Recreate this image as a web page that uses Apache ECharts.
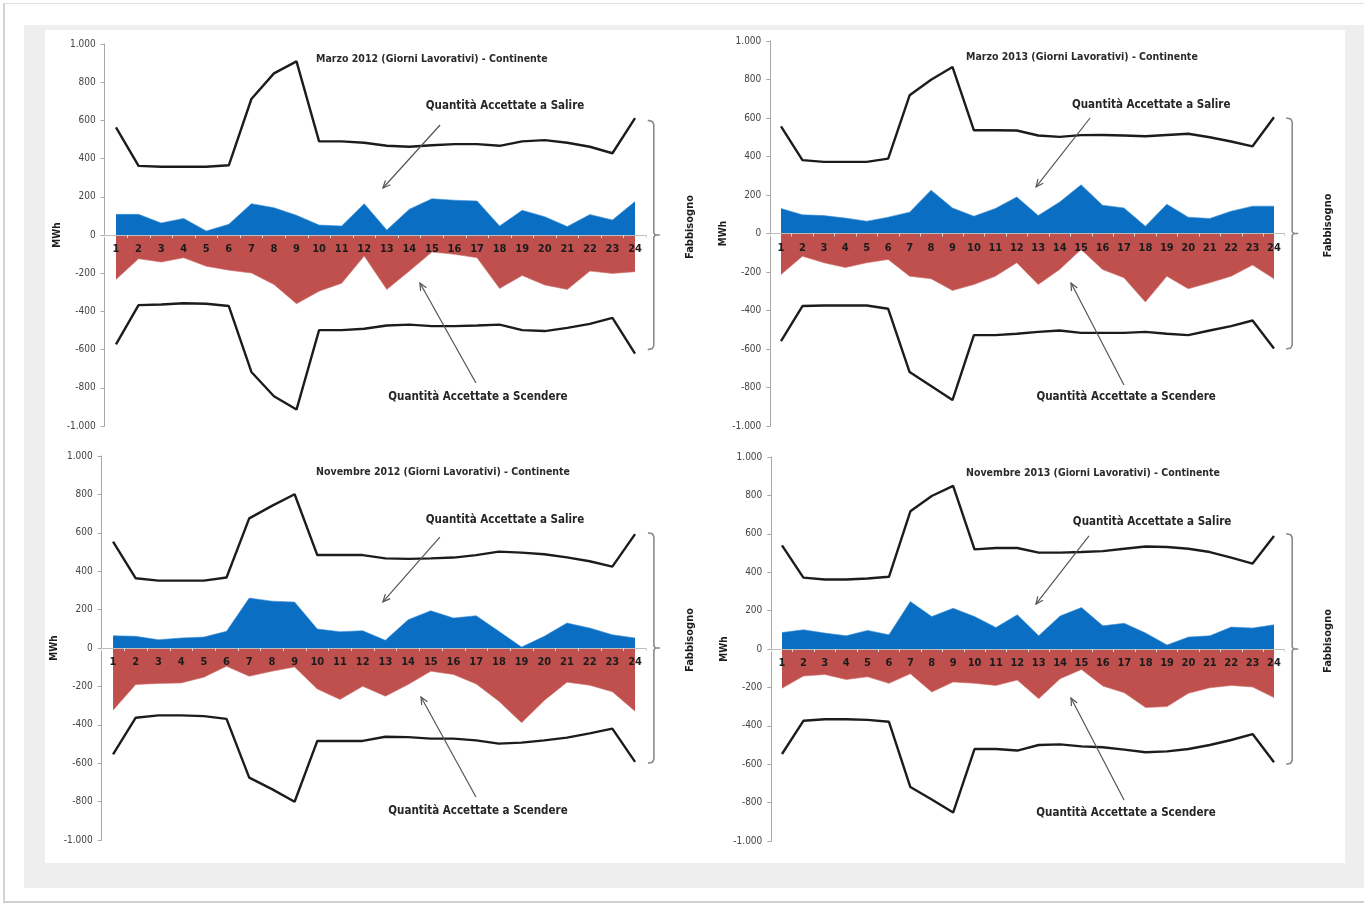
<!DOCTYPE html>
<html><head><meta charset="utf-8">
<script src="https://cdn.jsdelivr.net/npm/echarts@6/dist/echarts.min.js"></script>
<style>
html,body{margin:0;padding:0;background:#fff;width:1364px;height:905px;overflow:hidden;}
#frame{position:absolute;left:3px;top:3px;width:1361px;height:900px;border-left:2px solid #d4d4d4;border-top:1px solid #e2e2e2;border-bottom:2px solid #cfcfcf;box-sizing:border-box;}
#gray{position:absolute;left:24px;top:25px;width:1340px;height:863px;background:#eeeeee;}
#white{position:absolute;left:45px;top:30px;width:1300px;height:833px;background:#fff;}
#chart{position:absolute;left:0;top:0;width:1364px;height:905px;}
</style></head><body>
<div id="frame"></div><div id="gray"></div><div id="white"></div><div id="chart"></div>
<script>
// ---------- data ----------
const hours = ['1','2','3','4','5','6','7','8','9','10','11','12','13','14','15','16','17','18','19','20','21','22','23','24'];
const yTicks = [-1000, -800, -600, -400, -200, 0, 200, 400, 600, 800, 1000];
const titles = [
  'Marzo 2012 (Giorni Lavorativi) - Continente',
  'Marzo 2013 (Giorni Lavorativi) - Continente',
  'Novembre 2012 (Giorni Lavorativi) - Continente',
  'Novembre 2013 (Giorni Lavorativi) - Continente'
];
const labelSalire = 'Quantità Accettate a Salire';
const labelScendere = 'Quantità Accettate a Scendere';
const labelFabb = 'Fabbisogno';
const yName = 'MWh';

// Marzo 2012
const fabbUp_M12   = [563,362,357,357,357,365,712,846,909,490,490,483,467,462,470,476,476,467,490,497,483,462,428,612];
const fabbDown_M12 = [-573,-367,-364,-357,-360,-372,-717,-844,-914,-498,-498,-491,-474,-469,-477,-477,-474,-469,-498,-503,-486,-465,-434,-621];
const salire_M12   = [108,108,63,87,21,56,164,143,103,52,47,164,26,135,190,182,178,47,129,96,44,107,79,175];
const scendere_M12 = [-233,-124,-142,-119,-164,-184,-199,-259,-360,-294,-253,-110,-285,-189,-89,-101,-119,-280,-212,-262,-285,-189,-201,-192];
// Marzo 2013
const fabbUp_M13   = [557,381,372,372,372,389,718,799,865,536,536,535,509,502,511,512,509,505,512,518,500,478,453,604];
const fabbDown_M13 = [-559,-377,-374,-374,-374,-391,-720,-792,-865,-528,-528,-521,-511,-504,-516,-516,-516,-511,-521,-528,-504,-481,-452,-597];
const salire_M13   = [130,97,93,80,64,85,111,225,133,90,130,190,93,163,253,147,133,38,152,85,78,116,142,142];
const scendere_M13 = [-213,-118,-152,-177,-152,-135,-222,-235,-296,-265,-222,-152,-265,-187,-83,-187,-230,-356,-222,-287,-256,-222,-164,-235];
// Novembre 2012
const fabbUp_N12   = [554,363,351,351,351,367,675,740,801,484,484,484,467,464,467,471,484,502,497,488,472,452,424,593];
const fabbDown_N12 = [-554,-363,-351,-351,-355,-369,-675,-735,-801,-484,-484,-484,-462,-464,-472,-472,-481,-498,-493,-481,-467,-445,-420,-593];
const salire_N12   = [64,61,43,52,57,87,260,244,239,99,85,90,40,147,194,156,168,87,5,61,130,104,69,52];
const scendere_N12 = [-324,-190,-185,-182,-152,-95,-147,-121,-99,-213,-268,-199,-251,-190,-121,-138,-187,-277,-389,-273,-178,-194,-228,-329];
// Novembre 2013
const fabbUp_N13   = [540,372,362,362,367,376,717,797,850,519,526,526,502,502,505,510,522,534,531,522,505,476,445,588];
const fabbDown_N13 = [-547,-374,-366,-366,-369,-379,-719,-784,-852,-521,-521,-529,-500,-497,-507,-512,-524,-538,-533,-521,-500,-474,-443,-590];
const salire_N13   = [86,100,83,69,97,74,247,169,212,169,112,178,69,172,216,121,134,83,21,62,69,114,109,126];
const scendere_N13 = [-205,-141,-133,-159,-145,-179,-129,-224,-172,-179,-190,-162,-259,-155,-107,-193,-228,-305,-300,-231,-202,-190,-198,-253];

const fabbUp   = [fabbUp_M12, fabbUp_M13, fabbUp_N12, fabbUp_N13];
const fabbDown = [fabbDown_M12, fabbDown_M13, fabbDown_N12, fabbDown_N13];
const salire   = [salire_M12, salire_M13, salire_N12, salire_N13];
const scendere = [scendere_M12, scendere_M13, scendere_N12, scendere_N13];

// annotation anchors in data space: [hour (fractional), MWh]
const titlePos     = [[15.0, 921], [15.04, 917], [15.54, 917], [15.54, 917]];
const salTextPos   = [[18.24, 675], [18.27, 667], [18.27, 667], [18.3, 661]];
const scenTextPos  = [[17.04, -848], [17.1, -849], [17.08, -849], [17.08, -854]];
const salArrow     = [[[15.36, 576], [12.83, 246]], [[15.42, 600], [12.9, 242]], [[15.4, 578], [12.89, 240]], [[15.35, 589], [12.87, 234]]];
const scenArrow    = [[[16.95, -775], [14.47, -251]], [[17.0, -787], [14.53, -257]], [[16.99, -776], [14.57, -255]], [[16.99, -786], [14.51, -255]]];
const braceRange   = [600, 0, -600];

// ---------- layout ----------
const grids = [
  {left: 104.7, top: 44, width: 541.6, height: 382},
  {left: 770.3, top: 41, width: 514.4, height: 385},
  {left: 101.7, top: 456, width: 544.7, height: 384},
  {left: 771.3, top: 457, width: 513.4, height: 384}
];
const FONT = "'Liberation Sans Narrow','DejaVu Sans Condensed','Liberation Sans',Arial,sans-serif";
const BLUE = '#0A6FC2', RED = '#C0504D', INK = '#1c1c1c';
const yMin = yTicks[0], yMax = yTicks[yTicks.length - 1];

function fmt(v) {
  const a = Math.abs(v);
  if (a >= 1000) return (v < 0 ? '-' : '') + Math.floor(a / 1000) + '.' + String(a % 1000).padStart(3, '0');
  return String(v);
}

const chart = echarts.init(document.getElementById('chart'), null, {renderer: 'canvas'});
const xAxes = [], yAxes = [], series = [];
grids.forEach((g, k) => {
  xAxes.push({
    type: 'category', gridIndex: k, data: hours, boundaryGap: true, z: 10,
    position: 'bottom', offset: -g.height * (0 - yMin) / (yMax - yMin),
    axisLine: {onZero: false, lineStyle: {color: '#bdbdbd', width: 1}},
    axisTick: {show: true, length: 3, lineStyle: {color: '#d6d6d6'}},
    axisLabel: {color: INK, fontWeight: 'bold', fontSize: 11, margin: 9, fontFamily: FONT, interval: 0}
  });
  yAxes.push({
    type: 'value', gridIndex: k, min: yMin, max: yMax, interval: 200,
    splitLine: {show: false},
    axisLine: {show: true, lineStyle: {color: '#a8a8a8', width: 1}},
    axisTick: {show: true, length: 4, lineStyle: {color: '#a8a8a8'}},
    axisLabel: {color: '#444', fontSize: 10, margin: 9, fontFamily: FONT, formatter: fmt},
    name: yName, nameLocation: 'middle', nameGap: 42, nameRotate: 90,
    nameTextStyle: {fontWeight: 'bold', fontSize: 10, color: INK, fontFamily: FONT}
  });
  series.push(
    {type: 'line', xAxisIndex: k, yAxisIndex: k, data: salire[k], symbol: 'none', silent: true,
     lineStyle: {width: 0.6, color: '#3d8fd6'}, areaStyle: {color: BLUE, opacity: 1}, z: 2},
    {type: 'line', xAxisIndex: k, yAxisIndex: k, data: scendere[k], symbol: 'none', silent: true,
     lineStyle: {width: 0.6, color: '#cf7370'}, areaStyle: {color: RED, opacity: 1}, z: 2},
    {type: 'line', xAxisIndex: k, yAxisIndex: k, data: fabbUp[k], symbol: 'none', silent: true,
     lineStyle: {width: 2.4, color: INK}, z: 3},
    {type: 'line', xAxisIndex: k, yAxisIndex: k, data: fabbDown[k], symbol: 'none', silent: true,
     lineStyle: {width: 2.4, color: INK}, z: 3}
  );
});

chart.setOption({
  animation: false,
  backgroundColor: 'transparent',
  grid: grids.map(g => Object.assign({containLabel: false}, g)),
  xAxis: xAxes, yAxis: yAxes, series: series
});

function toPx(k, hour, val) {
  const h0 = Math.floor(hour);
  const f = hour - h0;
  const p0 = chart.convertToPixel({gridIndex: k}, [h0 - 1, val]);
  const p1 = chart.convertToPixel({gridIndex: k}, [h0, val]);
  return [p0[0] + (p1[0] - p0[0]) * f, p0[1]];
}
function arrow(a, b) {
  const ang = Math.atan2(b[1] - a[1], b[0] - a[0]);
  const L = 8, w = 0.42;
  const l1 = [b[0] - L * Math.cos(ang - w), b[1] - L * Math.sin(ang - w)];
  const l2 = [b[0] - L * Math.cos(ang + w), b[1] - L * Math.sin(ang + w)];
  return [
    {type: 'line', shape: {x1: a[0], y1: a[1], x2: b[0], y2: b[1]}, style: {stroke: '#555', lineWidth: 1.2}, z: 20},
    {type: 'polyline', shape: {points: [l1, b, l2]}, style: {stroke: '#555', lineWidth: 1.2, fill: null}, z: 20}
  ];
}
const gfx = [];
grids.forEach((g, k) => {
  const tp = toPx(k, titlePos[k][0], titlePos[k][1]);
  gfx.push({type: 'text', x: tp[0], y: tp[1], z: 20, style: {text: titles[k], fill: '#2a2a2a', font: 'bold 10.5px ' + FONT, textAlign: 'center', textVerticalAlign: 'middle'}});
  const sp = toPx(k, salTextPos[k][0], salTextPos[k][1]);
  gfx.push({type: 'text', x: sp[0], y: sp[1], z: 20, style: {text: labelSalire, fill: '#262626', font: 'bold 11.5px ' + FONT, textAlign: 'center', textVerticalAlign: 'middle'}});
  const cp = toPx(k, scenTextPos[k][0], scenTextPos[k][1]);
  gfx.push({type: 'text', x: cp[0], y: cp[1], z: 20, style: {text: labelScendere, fill: '#262626', font: 'bold 11.5px ' + FONT, textAlign: 'center', textVerticalAlign: 'middle'}});
  gfx.push(...arrow(toPx(k, salArrow[k][0][0], salArrow[k][0][1]), toPx(k, salArrow[k][1][0], salArrow[k][1][1])));
  gfx.push(...arrow(toPx(k, scenArrow[k][0][0], scenArrow[k][0][1]), toPx(k, scenArrow[k][1][0], scenArrow[k][1][1])));
  // brace
  const yT = chart.convertToPixel({yAxisIndex: k}, braceRange[0]);
  const yM = chart.convertToPixel({yAxisIndex: k}, braceRange[1]);
  const yB = chart.convertToPixel({yAxisIndex: k}, braceRange[2]);
  const x0 = g.left + g.width + 1.5, x1 = x0 + 6, x2 = x1 + 6;
  gfx.push({type: 'polyline', z: 20, shape: {points: [[x0, yT], [x1 - 1.5, yT + 1], [x1, yT + 4], [x1, yM - 2], [x1 + 1.5, yM], [x1, yM + 2], [x1, yB - 4], [x1 - 1.5, yB - 1], [x0, yB]]},
    style: {stroke: '#8a8a8a', lineWidth: 1.6, fill: null}});
  gfx.push({type: 'line', z: 20, shape: {x1: x1 + 1, y1: yM, x2: x2, y2: yM}, style: {stroke: '#8a8a8a', lineWidth: 1.6}});
  gfx.push({type: 'text', x: x1 + 36, y: yM - 8, rotation: Math.PI / 2, z: 20,
    style: {text: labelFabb, fill: INK, font: 'bold 11px ' + FONT, textAlign: 'center', textVerticalAlign: 'middle'}});
});
chart.setOption({graphic: {elements: gfx}});
</script>
</body></html>
